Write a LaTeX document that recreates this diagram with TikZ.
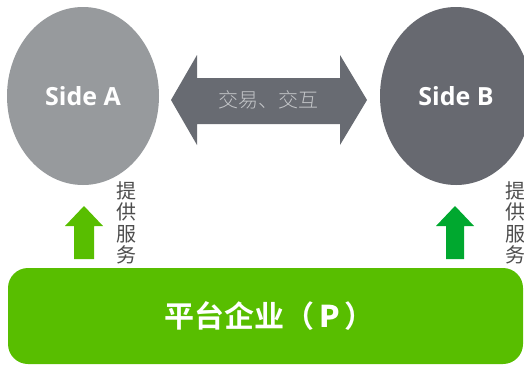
\documentclass[tikz,border=0pt]{standalone}
\usepackage{fontspec}
\setmainfont{Open Sans}
\newfontfamily\cjk{Noto Sans CJK SC}
\newfontfamily\cjkb{Noto Sans CJK SC Bold}
\newfontfamily\cjkl{Noto Sans CJK SC Light}
\definecolor{sidea}{HTML}{979A9D}
\definecolor{sideb}{HTML}{676970}
\definecolor{darr}{HTML}{686B72}
\definecolor{arrtxt}{HTML}{C4C6C9}
\definecolor{pgreen}{HTML}{58BE00}
\definecolor{dgreen}{HTML}{00A82F}
\definecolor{vtxt}{HTML}{4D4D4D}
\tikzset{
  side/.style={ellipse, minimum width=152pt, minimum height=178pt, inner sep=0pt,
    text=white, font=\fontsize{25}{27}\selectfont\bfseries},
  vlabel/.style={text=vtxt, font=\cjk\fontsize{20}{21.5}\selectfont, align=center, inner sep=0pt},
}
\usetikzlibrary{shapes.geometric}
\begin{document}
\begin{tikzpicture}[x=1pt,y=-1pt]
\useasboundingbox (0,0) rectangle (524,365);
\begin{scope}
\clip (0,0) rectangle (524,365);
% ellipses
\node[side, fill=sidea] (A) at (83,96) {Side A};
\node[side, fill=sideb] (B) at (456,96) {Side B};
% double arrow
\fill[darr] (171,100) -- (197,55) -- (197,78) -- (340,78) -- (340,55) -- (367,100)
  -- (340,145) -- (340,124) -- (197,124) -- (197,145) -- cycle;
\node[text=arrtxt, font=\cjkl\fontsize{20}{21}\selectfont, inner sep=0pt] (T) at (268,100) {交易、交互};
% platform
\node[fill=pgreen, rounded corners=20pt, minimum width=515pt, minimum height=96pt,
  inner sep=0pt, text=white, font=\cjkb\fontsize{30}{32}\selectfont] (P) at (265.5,316)
  {\hspace*{8pt}平台企业（\,\textbf{P}\,）};
% up arrows
\fill[pgreen] (74,259) -- (74,226) -- (65,226) -- (84,206) -- (103,226) -- (94,226) -- (94,259) -- cycle;
\fill[dgreen] (446,259) -- (446,226) -- (436,226) -- (455,206) -- (474,226) -- (464,226) -- (464,259) -- cycle;
% vertical labels
\node[vlabel] (LA) at (126,223) {提\\供\\服\\务};
\node[vlabel] (LB) at (515,223) {提\\供\\服\\务};
\end{scope}
\end{tikzpicture}
\end{document}
